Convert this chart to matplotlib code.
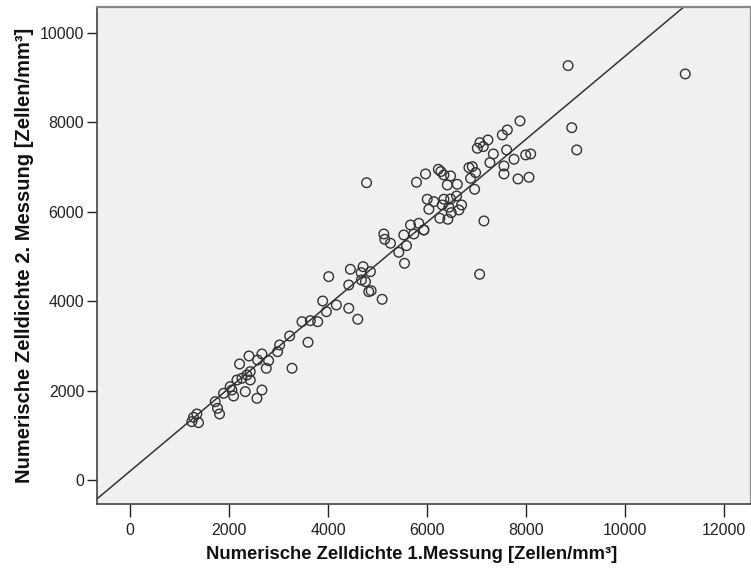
import numpy as np
import matplotlib
matplotlib.use("Agg")
from matplotlib import pyplot as plt
from matplotlib import font_manager

messung1 = [3225, 3597, 3023, 2982, 2403, 2665, 2577, 2800, 2213, 2753,
            3273, 2429, 2362, 2160, 2261, 2429, 2024, 2058, 2092, 1889,
            2328, 2665, 2564, 1721, 1768, 1808, 1350, 1282, 1383, 1248,
            5128, 5148, 5263, 5533, 5735, 5938, 5587, 5431, 5547, 7065,
            4015, 4453, 4710, 4858, 4670, 4676, 4757, 4420, 4824, 4872,
            5095, 3893, 4170, 3968, 4420, 4602, 3475, 3644, 3792,
            8927, 9028, 7881, 7524, 7625, 7233, 7071, 7018, 7139, 7342,
            7611, 7760, 7996, 8097, 7273, 7557, 7557, 7840, 8063, 6849,
            6917, 6984, 6883, 6964, 6230, 6280, 5972, 6343, 6478, 5789,
            6613, 6411, 6006, 6140, 6343, 6478, 6599, 6039, 6309, 6444,
            6492, 6700, 6646, 6261, 6423, 7152, 5668, 5836, 5938,
            8853, 11221, 4780]
messung2 = [3221, 3080, 3020, 2870, 2774, 2819, 2685, 2669, 2595, 2499,
            2499, 2423, 2349, 2237, 2275, 2237, 2088, 2013, 1879, 1939,
            1976, 2013, 1827, 1752, 1603, 1477, 1477, 1402, 1283, 1305,
            5503, 5384, 5295, 5481, 5503, 5593, 5242, 5093, 4847, 4602,
            4549, 4713, 4772, 4660, 4638, 4474, 4436, 4362, 4213, 4235,
            4042, 4004, 3915, 3765, 3841, 3595, 3541, 3564, 3541,
            7881, 7383, 8031, 7718, 7830, 7606, 7546, 7420, 7457, 7293,
            7383, 7174, 7271, 7293, 7099, 7025, 6846, 6734, 6771, 6987,
            7009, 6875, 6749, 6503, 6950, 6900, 6846, 6823, 6801, 6660,
            6615, 6600, 6280, 6226, 6280, 6286, 6353, 6056, 6152, 6101,
            5980, 6152, 6040, 5855, 5832, 5794, 5705, 5742, 5593,
            9269, 9083, 6650]

x_ticks = [0, 2000, 4000, 6000, 8000, 10000, 12000]
y_ticks = [0, 2000, 4000, 6000, 8000, 10000]

names = {f.name for f in font_manager.fontManager.ttflist}
fam = "Liberation Sans Narrow" if "Liberation Sans Narrow" in names else "Liberation Sans"
plt.rcParams["font.family"] = [fam, "DejaVu Sans"]

x = np.array(messung1, dtype=float)
y = np.array(messung2, dtype=float)
slope, icpt = np.polyfit(x, y, 1)

fig = plt.figure(figsize=(7.51, 5.76), dpi=100)
ax = fig.add_axes([0.1288, 0.125, 0.8712, 0.863])
ax.set_facecolor("#f0f0f0")

xlim = (-674, 12550)
ylim = (-537, 10582)
xx = np.array(xlim)
ax.plot(xx, icpt + slope * xx, color="#333333", lw=1.1, zorder=2)
ax.scatter(x, y, s=48, facecolors="none", edgecolors="#333333", linewidths=1.0, zorder=3)

ax.set_xlim(xlim)
ax.set_ylim(ylim)
ax.set_xticks(x_ticks)
ax.set_yticks(y_ticks)
ax.tick_params(axis="x", direction="out", length=9, width=1, colors="#222222", labelsize=11.5, pad=5)
ax.tick_params(axis="y", direction="out", length=7, width=1, colors="#222222", labelsize=11.5, pad=2)
for s in ["left", "bottom"]:
    ax.spines[s].set_color("#444444")
    ax.spines[s].set_linewidth(1.2)
for s in ["top", "right"]:
    ax.spines[s].set_color("#888888")
    ax.spines[s].set_linewidth(1.6)

lab = dict(family=["Liberation Sans", "DejaVu Sans"], fontweight="bold", color="#111111")
ax.set_xlabel("Numerische Zelldichte 1.Messung [Zellen/mm³]", fontsize=13.3, labelpad=8, **lab)
ax.set_ylabel("Numerische Zelldichte 2. Messung [Zellen/mm³]", fontsize=14.5, labelpad=4, **lab)
ax.xaxis.set_label_coords(0.482, -0.085)

fig.savefig("out.png", dpi=100)
